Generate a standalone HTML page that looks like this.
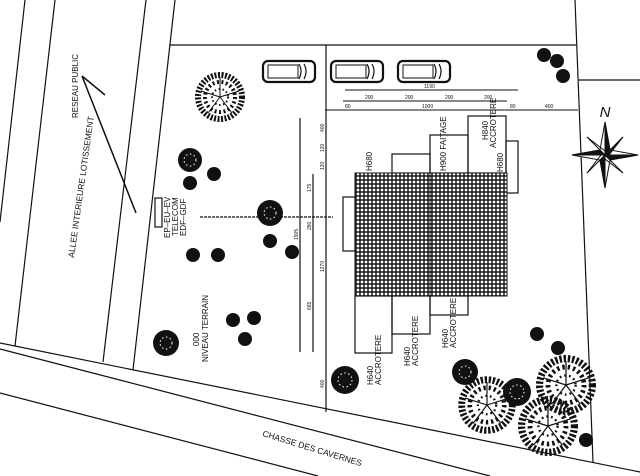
<!DOCTYPE html>
<html><head><meta charset="utf-8"><style>
html,body{margin:0;padding:0;background:#fff;}
svg{display:block;}
text{font-family:"Liberation Sans",sans-serif;fill:#111;}
</style></head><body>
<svg width="640" height="476" viewBox="0 0 640 476" xmlns="http://www.w3.org/2000/svg">
<defs>
<pattern id="h" width="4" height="4" patternUnits="userSpaceOnUse">
<rect width="4" height="4" fill="#222"/><circle cx="2" cy="2" r="1.35" fill="#fff"/>
</pattern>
<g id="tree">
<circle r="22" fill="none" stroke="#111" stroke-width="6" stroke-dasharray="2 1.5"/>
<circle r="15" fill="none" stroke="#111" stroke-width="4" stroke-dasharray="2 2.5"/>
<circle r="8" fill="none" stroke="#111" stroke-width="2" stroke-dasharray="1.5 2.5"/>
<path d="M0 0L0 -20M0 0L19 -6M0 0L12 16M0 0L-12 16M0 0L-19 -6" stroke="#111" stroke-width="1"/>
</g>
<g id="car">
<rect x="0" y="0" width="52" height="21" rx="5" fill="#fff" stroke="#111" stroke-width="2.2"/>
<rect x="5" y="4" width="30" height="13" fill="none" stroke="#111" stroke-width="1"/>
<path d="M36 3 Q40 10 36 18 M41 3 Q45 10 41 18" fill="none" stroke="#111" stroke-width="1.2"/>
</g>
</defs>
<g stroke="#111" stroke-width="1.2" fill="none">
<path d="M25 0L0 222"/>
<path d="M55 0L15 346"/>
<path d="M146 0L103 362"/>
<path d="M175 0L133 370"/>
<path d="M170 45L576 45"/>
<path d="M575 0L593 462"/>
<path d="M579 80L640 80"/>
<path d="M0 343L640 472"/>
<path d="M0 349L490 476"/>
<path d="M0 393L318 476"/>
<path d="M326 45L326 412"/>
<path d="M300 118L300 352"/>
<path d="M313 174L313 352"/>
<path d="M200 217L333 217" stroke-dasharray="3 1"/>
<path d="M345 90L518 90" stroke-width="1"/>
<path d="M343 101L507 101" stroke-width="1"/>
<path d="M325 110L578 110" stroke-width="1"/>
<path d="M82 76L136 213M82 76L105 95" stroke-width="1.5"/>
<rect x="343" y="197" width="12" height="54"/>
<rect x="392" y="154" width="38" height="19"/>
<rect x="430" y="135" width="38" height="38"/>
<rect x="468" y="116" width="38" height="57"/>
<rect x="506" y="141" width="12" height="52"/>
<rect x="355" y="296" width="37" height="57"/>
<rect x="392" y="296" width="38" height="38"/>
<rect x="430" y="296" width="38" height="19"/>
<rect x="155" y="198" width="7" height="29"/>
</g>
<rect x="355" y="173" width="152" height="123" fill="url(#h)" stroke="#111" stroke-width="1"/>
<line x1="430" y1="173" x2="430" y2="296" stroke="#111" stroke-width="0.8"/>
<use href="#car" x="263" y="61"/><use href="#car" x="331" y="61"/><use href="#car" x="398" y="61"/>
<use href="#tree" transform="translate(220,97)"/>
<use href="#tree" transform="translate(487,405) scale(1.15)"/>
<use href="#tree" transform="translate(566,385) scale(1.2)"/>
<use href="#tree" transform="translate(548,426) scale(1.2)"/>
<g fill="#111">
<circle cx="190" cy="160" r="12"/><circle cx="270" cy="213" r="13"/><circle cx="166" cy="343" r="13"/>
<circle cx="345" cy="380" r="14"/><circle cx="465" cy="372" r="13"/><circle cx="517" cy="392" r="14"/>
<circle cx="214" cy="174" r="7"/><circle cx="190" cy="183" r="7"/><circle cx="270" cy="241" r="7"/>
<circle cx="292" cy="252" r="7"/><circle cx="193" cy="255" r="7"/><circle cx="218" cy="255" r="7"/>
<circle cx="233" cy="320" r="7"/><circle cx="254" cy="318" r="7"/><circle cx="245" cy="339" r="7"/>
<circle cx="537" cy="334" r="7"/><circle cx="558" cy="348" r="7"/><circle cx="586" cy="440" r="7"/>
<circle cx="544" cy="55" r="7"/><circle cx="557" cy="61" r="7"/><circle cx="563" cy="76" r="7"/>
</g>
<g fill="none" stroke="#fff" stroke-width="1" stroke-dasharray="1.5 2.5">
<circle cx="190" cy="160" r="6"/><circle cx="270" cy="213" r="6"/><circle cx="166" cy="343" r="6"/>
<circle cx="345" cy="380" r="7"/><circle cx="465" cy="372" r="6"/><circle cx="517" cy="392" r="7"/>
</g>
<g transform="translate(605,155)" fill="#111" stroke="#111" stroke-width="1">
<path d="M0 -33L5 -5L33 0L5 5L0 33L-5 5L-33 0L-5 -5Z" fill="#fff"/>
<path d="M0 -33L0 33M-33 0L33 0"/>
<path d="M0 -33L5 -5L0 0Z M33 0L5 5L0 0Z M0 33L-5 5L0 0Z M-33 0L-5 -5L0 0Z"/>
<path d="M18 -18L3 -3L-3 3L-18 18M-18 -18L18 18" stroke-width="1"/>
<path d="M18 -18L4 0L0 0Z M18 18L0 4Z M-18 18L-4 0Z M-18 -18L0 -4Z"/>
<text x="0" y="-38" font-size="15" font-style="italic" text-anchor="middle" stroke="none">N</text>
</g>
<g font-size="8" style="font-weight:bold">
<text transform="translate(78,118) rotate(-90)" font-weight="normal">RESEAU PUBLIC</text>
<text transform="translate(74,258) rotate(-82)" font-size="8.5" font-weight="normal">ALLEE INTERIEURE LOTISSEMENT</text>
<text transform="translate(170,238) rotate(-90)" font-weight="normal">EP–EU–EV</text>
<text transform="translate(178,236) rotate(-90)" font-weight="normal">TELECOM</text>
<text transform="translate(186,236) rotate(-90)" font-weight="normal">EDF–GDF</text>
<text transform="translate(199,346) rotate(-90)" font-weight="normal">000</text>
<text transform="translate(208,362) rotate(-90)" font-weight="normal">NIVEAU TERRAIN</text>
<text transform="translate(262,436) rotate(17)" font-size="8.5" font-weight="normal">CHASSE DES CAVERNES</text>
<text transform="translate(372,171) rotate(-90)" font-weight="normal">H680</text>
<text transform="translate(446,171) rotate(-90)" font-weight="normal">H900 FAITAGE</text>
<text transform="translate(488,140) rotate(-90)" font-weight="normal">H840</text>
<text transform="translate(496,148) rotate(-90)" font-weight="normal">ACCROTERE</text>
<text transform="translate(503,172) rotate(-90)" font-weight="normal">H680</text>
<text transform="translate(373,385) rotate(-90)" font-weight="normal">H640</text>
<text transform="translate(381,385) rotate(-90)" font-weight="normal">ACCROTERE</text>
<text transform="translate(410,366) rotate(-90)" font-weight="normal">H640</text>
<text transform="translate(418,366) rotate(-90)" font-weight="normal">ACCROTERE</text>
<text transform="translate(448,348) rotate(-90)" font-weight="normal">H640</text>
<text transform="translate(456,348) rotate(-90)" font-weight="normal">ACCROTERE</text>
</g>
<g font-size="5">
<text x="424" y="88">1190</text>
<text x="365" y="99">200</text><text x="405" y="99">200</text><text x="445" y="99">200</text><text x="484" y="99">200</text>
<text x="345" y="108">80</text><text x="422" y="108">1000</text><text x="510" y="108">80</text><text x="545" y="108">400</text>
<text transform="translate(324,132) rotate(-90)">400</text>
<text transform="translate(324,152) rotate(-90)">120</text>
<text transform="translate(324,170) rotate(-90)">120</text>
<text transform="translate(324,272) rotate(-90)">1270</text>
<text transform="translate(311,192) rotate(-90)">175</text>
<text transform="translate(311,230) rotate(-90)">280</text>
<text transform="translate(311,310) rotate(-90)">665</text>
<text transform="translate(298,240) rotate(-90)">1905</text>
<text transform="translate(324,388) rotate(-90)">400</text>
</g>
</svg>
</body></html>
